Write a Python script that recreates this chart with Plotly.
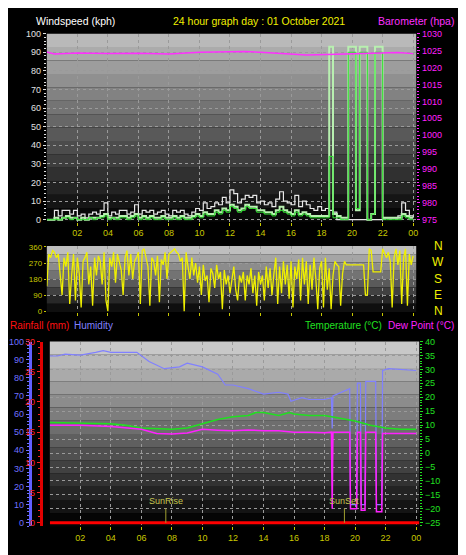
import plotly.graph_objects as go

# ---------------- data ----------------
hours_q = [i * 0.25 for i in range(97)]
hours_e = [i * 0.125 for i in range(193)]
gust = [0,0,5,2,5,5,3,5, 2,3,1,3,4,3,5,9, 2,4,3,5,5,3,4,8, 3,5,4,5,3,4,5,3,
        2,5,4,5,3,2,4,6, 5,9,6,7,9,8,12,9, 16,14,9,11,13,12,13,9, 10,8,9,7,11,15,10,9,
        8,13,7,10,8,6,5,7, 5,6,5,4,0,0,0,0, 0,0,0,0,0,0,0,0, 1,1,1,1,2,9,5,2,1]
avg_pale = [0,0,1,0,1,2,1,1, 0,1,0,1,1,1,2,3, 1,1,1,2,2,1,2,3, 1,2,1,2,1,1,2,1,
            1,2,1,2,1,1,2,3, 2,4,3,3,5,4,6,5, 8,7,5,6,8,7,7,5, 5,4,4,3,5,7,5,4,
            3,5,3,4,3,2,2,2, 2,2,93,3,2,1,1,93, 93,5,93,93,0,3,93,93, 1,1,1,1,1,3,2,1,1]
avg_bright = [0,0,0,0,1,1,0,1, 0,0,0,1,0,1,1,2, 0,1,0,1,1,0,1,2, 0,1,0,1,0,0,1,0,
              0,1,0,1,0,0,1,2, 1,3,2,2,4,3,5,4, 7,6,4,5,7,6,6,4, 4,3,3,2,4,5,4,3,
              2,4,2,3,2,1,1,1, 1,1,34,1,1,0,0,90, 90,6,90,90,0,3,90,90, 0,0,0,0,0,2,1,0,0]
baro_h = [0, 0.5, 2, 4, 6, 8, 10, 12, 13, 14, 16, 17, 19, 22, 23, 24]
baro = [1024.6, 1024.0, 1024.3, 1024.1, 1024.2, 1024.0, 1024.5, 1024.6, 1024.7,
        1024.5, 1024.1, 1023.7, 1023.9, 1024.3, 1024.4, 1024.1]
wdir = [140,320,300,340,330,300,320,200, 90,300,250,330,40,200,320,60,
        300,210,20,280,300,330,150,250, 30,300,200,310,280,150,330,60,
        0,300,250,330,160,320,280,230, 90,300,340,200,320,180,280,300,
        330,40,340,350,300,250,30,300, 280,200,310,50,290,260,330,180,
        320,330,340,350,330,320,280,300, 0,330,250,180,300,200,270,160,
        250,90,260,170,200,50,240,210, 130,260,180,220,10,230,150,200,
        100,180,250,120,60,200,160,220, 60,200,150,240,100,200,30,220,
        150,200,60,250,130,240,90,210, 300,40,250,100,280,150,260,70,
        280,20,250,180,290,60,300,150, 280,40,260,120,300,180,10,240,
        280,20,300,120,240,10,200,280, 260,250,30,210,280,260,260,260,
        260,260,260,260,260,260,260,90, 90,350,340,220,220,220,220,220,
        350,320,300,330,280,20,300,350, 260,340,40,300,350,30,320,260, 310]
hum_h = [0,0.5,1,2,3,3.5,4,5,5.7,6.5,7.5,8.5,9,10,11,11.5,12,13,14,15,15.6,15.8,16.5,17,18,18.45,
         18.5,18.55,19.3,19.65,19.7,20.1,20.15,20.35,20.4,20.65,20.7,21.2,21.35,21.4,21.75,21.8,22.2,24]
hum = [92,92,93,92.5,94,95,94,94,94,89,85,86,88,86,82,76,76,74,71,72,71,67,69,68,68,69,
       52,70,73,74,10,10,77,77,10,10,78,78,78,10,10,84,85,84]
temp_h = [0,2,4,5,6,8,9,10,11,12,13,13.5,14,15,15.7,16,17,18,19,20,21,22,23,24]
temp = [11,10.8,10.5,10,9,8.5,9,10.5,12,13,13.5,14.5,14.5,13.5,14.5,14,13.5,13.5,12.5,11.5,10,9,8.5,8.5]
dew_h = [0,2,4,6,7,8,9,10,11,12,13,14,15,16,17,18,18.45,18.5,18.55,19.65,19.7,20.1,20.15,20.35,
         20.4,20.65,20.7,21.35,21.4,21.75,21.8,24]
dew = [10,10,9.5,8.5,7,6.8,7.2,8.5,8.2,8,8.3,8,8,7.5,7.5,7.3,7.5,-20,7.5,7.5,-20,-20,7.5,7.5,
       -20.5,-20.5,7.5,7.5,-21,-21,7,7]
rain_h = [0, 24.3]
rain = [0, 0]
tick_vals = [2,4,6,8,10,12,14,16,18,20,22,24]
tick_text = ["02","04","06","08","10","12","14","16","18","20","22","00"]
sun_events = ["SunRise", "SunSet"]
sun_hours = [7.6, 19.3]

# ---------------- figure ----------------
F = "Liberation Sans"
W, H, OFF = 458, 547, 8
def px(x): return (x - OFF) / W
def py(y): return 1 - (y - OFF) / H

fig = go.Figure()
fig.add_trace(go.Scatter(x=hours_q, y=gust, line=dict(color="#e8e8e8", width=1.2, shape="hv"), xaxis="x", yaxis="y"))
fig.add_trace(go.Scatter(x=hours_q, y=avg_pale, line=dict(color="#b8f0b0", width=2, shape="hv"), xaxis="x", yaxis="y"))
fig.add_trace(go.Scatter(x=hours_q, y=avg_bright, line=dict(color="#30e030", width=1, shape="hv"), xaxis="x", yaxis="y"))
fig.add_trace(go.Scatter(x=baro_h, y=baro, line=dict(color="#ff30ff", width=1.5), xaxis="x", yaxis="y2"))
fig.add_trace(go.Scatter(x=hours_e, y=wdir, line=dict(color="#f0f000", width=1.3), xaxis="x2", yaxis="y3"))
fig.add_trace(go.Scatter(x=rain_h, y=rain, line=dict(color="#ff0000", width=3), xaxis="x3", yaxis="y5"))
fig.add_trace(go.Scatter(x=hum_h, y=hum, line=dict(color="#8080ff", width=1.2), xaxis="x3", yaxis="y4"))
fig.add_trace(go.Scatter(x=temp_h, y=temp, line=dict(color="#20e020", width=1.5), xaxis="x3", yaxis="y6"))
fig.add_trace(go.Scatter(x=dew_h, y=dew, line=dict(color="#ff20ff", width=1.5), xaxis="x3", yaxis="y6"))
fig.update_traces(mode="lines", showlegend=False, hoverinfo="skip")

grid = dict(showgrid=True, gridcolor="#9a9a9a", griddash="dot", gridwidth=1, zeroline=False)
xcommon = dict(range=[0, 24.2], tickvals=tick_vals, **grid, tickfont=dict(family=F, size=9, color="#c8c800"),
               ticks="outside", ticklen=3, tickcolor="#c8c800", showline=False)
fig.update_layout(
    width=W, height=H, margin=dict(l=0, r=0, t=0, b=0),
    paper_bgcolor="black", plot_bgcolor="black",
    xaxis=dict(domain=[px(47), px(418)], anchor="y", ticktext=tick_text, **xcommon),
    xaxis2=dict(domain=[px(47), px(418)], anchor="y3", showticklabels=False,
                **{k: v for k, v in xcommon.items() if k != "tickfont"}),
    xaxis3=dict(domain=[px(50), px(421)], anchor="y4", ticktext=tick_text, **xcommon),
    yaxis=dict(domain=[py(220), py(29)], range=[-1, 100], dtick=10, **grid,
               tickfont=dict(family=F, size=9, color="#e0e0e0"), ticks="outside", ticklen=3, tickcolor="#e0e0e0",
               minor=dict(ticks="outside", ticklen=2, tickcolor="#e0e0e0", dtick=2, showgrid=False)),
    yaxis2=dict(overlaying="y", side="right", range=[974.5, 1030], dtick=5, showgrid=False, zeroline=False,
                tickfont=dict(family=F, size=9, color="#ff20ff"), ticks="outside", ticklen=3, tickcolor="#ff20ff",
                minor=dict(ticks="outside", ticklen=2, tickcolor="#ff20ff", dtick=1)),
    yaxis3=dict(domain=[py(312), py(245)], range=[-5, 365], tickvals=[0, 90, 180, 270, 360], **grid,
                tickfont=dict(family=F, size=8, color="#c8c800"), ticks="outside", ticklen=2, tickcolor="#c8c800"),
    yaxis4=dict(domain=[py(530), py(342)], range=[-2, 100], dtick=10, anchor="free", position=px(30),
                showgrid=False, zeroline=False, showline=True, linecolor="#6060ff", linewidth=3,
                tickfont=dict(family=F, size=9, color="#7070ff"), ticks="outside", ticklen=3, tickcolor="#7070ff",
                minor=dict(ticks="outside", ticklen=2, tickcolor="#7070ff", dtick=2)),
    yaxis5=dict(overlaying="y4", range=[-0.6, 30], dtick=5, anchor="free", position=px(41),
                showgrid=False, zeroline=False, showline=True, linecolor="#e00000", linewidth=3,
                tickfont=dict(family=F, size=9, color="#ff2020"), ticks="outside", ticklen=3, tickcolor="#ff2020",
                minor=dict(ticks="outside", ticklen=2, tickcolor="#ff2020", dtick=1)),
    yaxis6=dict(overlaying="y4", side="right", anchor="x3", range=[-26.3, 40], dtick=5, **grid,
                tickfont=dict(family=F, size=9, color="#20e020"), ticks="outside", ticklen=3, tickcolor="#20e020",
                minor=dict(ticks="outside", ticklen=2, tickcolor="#20e020", dtick=1)),
)

# gradient backgrounds
def gradient(xref, yref, top, bottom, n=14):
    for i in range(n):
        t = i / (n - 1)
        g = int(top + (bottom - top) * t)
        fig.add_shape(type="rect", xref=xref, yref=yref, x0=0, x1=1,
                      y0=1 - (i + 1) / n, y1=1 - i / n, layer="below", line_width=0,
                      fillcolor=f"rgb({g},{g},{g})")
gradient("x domain", "y domain", 185, 8)
gradient("x2 domain", "y3 domain", 190, 15, 8)
gradient("x3 domain", "y4 domain", 200, 5)

# titles
def ann(text, x, y, color, size=11, xanchor="left", yanchor="middle"):
    fig.add_annotation(text=text, x=px(x), y=py(y), xref="paper", yref="paper", showarrow=False,
                       xanchor=xanchor, yanchor=yanchor, font=dict(family=F, size=size, color=color))
ann("Windspeed (kph)", 34, 8, "white", size=10.5, yanchor="top")
ann("24 hour graph day : 01 October 2021", 172, 8, "#f0f000", size=10.5, yanchor="top")
ann("Barometer (hpa)", 458, 8, "#ff30ff", size=10.5, xanchor="right", yanchor="top")
ann("Rainfall (mm)", 8, 326, "#ff1010", size=10)
ann("Humidity", 72, 326, "#8080ff", size=10)
ann("Temperature (°C)", 304, 326, "#20e020", size=10)
ann("Dew Point (°C)", 458, 326, "#ff20ff", size=10, xanchor="right")
for i, L in enumerate(["N", "W", "S", "E", "N"]):
    ann(L, 440, 245 + i*16.5, "#f0f000", size=12, xanchor="center")
for name, h in zip(sun_events, sun_hours):
    fig.add_annotation(text=name, x=h, y=8, xref="x3", yref="y4", showarrow=False, yanchor="bottom",
                       font=dict(family=F, size=9, color="#c8c850"))
    fig.add_shape(type="line", xref="x3", yref="y4", x0=h, x1=h, y0=0, y1=8,
                  line=dict(color="#a0a030", width=1))

fig.write_html("out.html")
